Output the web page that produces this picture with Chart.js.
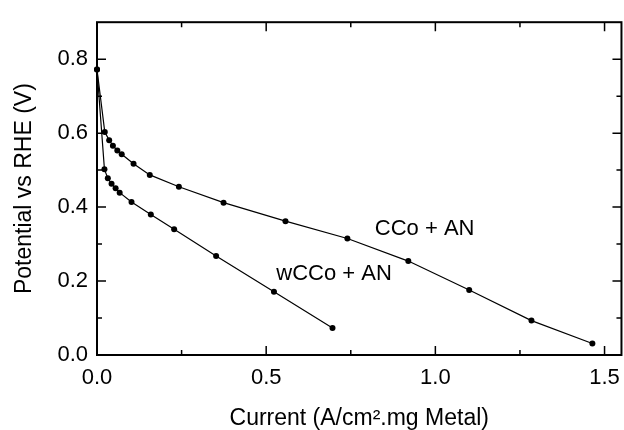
<!DOCTYPE html>
<html>
<head>
<meta charset="utf-8">
<script src="https://cdn.jsdelivr.net/npm/chart.js@4/dist/chart.umd.min.js"></script>
<style>
  html, body { margin: 0; padding: 0; background: #fff; overflow: hidden; }
</style>
</head>
<body>
<canvas id="plot" width="630" height="430"></canvas>
<script>
// CCo + AN (upper curve)
var ccoX = [0.0, 0.023, 0.036, 0.047, 0.060, 0.073, 0.108, 0.156, 0.242, 0.374, 0.557, 0.740, 0.920, 1.100, 1.284, 1.464];
var ccoY = [0.772, 0.603, 0.581, 0.566, 0.553, 0.543, 0.517, 0.487, 0.455, 0.412, 0.362, 0.315, 0.254, 0.176, 0.093, 0.031];

// wCCo + AN (lower curve)
var wccoX = [0.0, 0.022, 0.032, 0.043, 0.055, 0.067, 0.102, 0.159, 0.228, 0.352, 0.523, 0.696];
var wccoY = [0.772, 0.502, 0.478, 0.463, 0.451, 0.439, 0.414, 0.380, 0.340, 0.268, 0.171, 0.073];

// axis ticks
var xMajor = [0.0, 0.5, 1.0, 1.5];
var xMinor = [0.25, 0.75, 1.25];
var yMajor = [0.0, 0.2, 0.4, 0.6, 0.8];
var yMinor = [0.1, 0.3, 0.5, 0.7];

// curve labels (placed in data units)
var curveLabels = [
    { text: 'CCo + AN', x: 0.821, y: 0.342 },
    { text: 'wCCo + AN', x: 0.530, y: 0.218 }
];

var FONT = 'Liberation Sans, Arial, sans-serif';
Chart.defaults.font.family = FONT;
Chart.defaults.color = '#000';

function toPoints(xs, ys) {
    return xs.map(function (x, i) { return { x: x, y: ys[i] }; });
}

/* ======= Frame, inward ticks and curve labels ======= */
var framePlugin = {
    id: 'frame',
    afterDraw: function (chart) {
        var ctx = chart.ctx;
        var a = chart.chartArea;
        var sx = chart.scales.x, sy = chart.scales.y;
        ctx.save();
        ctx.strokeStyle = '#000';
        ctx.lineWidth = 2;
        ctx.strokeRect(a.left, a.top, a.right - a.left, a.bottom - a.top);

        ctx.lineWidth = 1.5;
        function xTick(v, len) {
            var px = sx.getPixelForValue(v);
            ctx.beginPath();
            ctx.moveTo(px, a.bottom); ctx.lineTo(px, a.bottom - len);
            ctx.moveTo(px, a.top); ctx.lineTo(px, a.top + len);
            ctx.stroke();
        }
        function yTick(v, len) {
            var py = sy.getPixelForValue(v);
            ctx.beginPath();
            ctx.moveTo(a.left, py); ctx.lineTo(a.left + len, py);
            ctx.moveTo(a.right, py); ctx.lineTo(a.right - len, py);
            ctx.stroke();
        }
        xMajor.forEach(function (v) { xTick(v, 9); });
        xMinor.forEach(function (v) { xTick(v, 5); });
        yMajor.forEach(function (v) { yTick(v, 9); });
        yMinor.forEach(function (v) { yTick(v, 5); });

        ctx.fillStyle = '#000';
        ctx.font = '22px ' + FONT;
        ctx.textAlign = 'left';
        ctx.textBaseline = 'middle';
        curveLabels.forEach(function (l) {
            ctx.fillText(l.text, sx.getPixelForValue(l.x), sy.getPixelForValue(l.y));
        });
        ctx.restore();
    }
};

var series = {
    borderColor: '#000',
    backgroundColor: '#000',
    borderWidth: 1.2,
    pointRadius: 3,
    pointHoverRadius: 3,
    pointBackgroundColor: '#000',
    pointBorderWidth: 0,
    showLine: true,
    tension: 0,
    clip: false
};

var ctx = document.getElementById('plot');
var graph = new Chart(ctx, {
    type: 'scatter',
    data: {
        datasets: [
            Object.assign({ label: 'CCo + AN', data: toPoints(ccoX, ccoY) }, series),
            Object.assign({ label: 'wCCo + AN', data: toPoints(wccoX, wccoY) }, series)
        ]
    },
    options: {
        responsive: false,
        animation: false,
        devicePixelRatio: 1,
        layout: { padding: { top: 15, right: 5, left: 0, bottom: 0 } },
        plugins: { legend: { display: false }, tooltip: { enabled: false } },
        scales: {
            x: {
                type: 'linear',
                min: 0,
                max: 1.55,
                grid: { display: false, drawTicks: false },
                border: { display: false },
                afterBuildTicks: function (s) { s.ticks = xMajor.map(function (v) { return { value: v }; }); },
                afterFit: function (s) { s.height = 75; },
                ticks: {
                    padding: 10,
                    maxRotation: 0,
                    font: { size: 22 },
                    callback: function (v) { return Number(v).toFixed(1); }
                },
                title: {
                    display: true,
                    text: 'Current (A/cm².mg Metal)',
                    font: { size: 23, lineHeight: 1 },
                    padding: { top: 1, bottom: 0 }
                }
            },
            y: {
                type: 'linear',
                min: 0,
                max: 0.9,
                grid: { display: false, drawTicks: false },
                border: { display: false },
                afterBuildTicks: function (s) { s.ticks = yMajor.map(function (v) { return { value: v }; }); },
                afterFit: function (s) { s.width = 97; },
                ticks: {
                    padding: 9,
                    font: { size: 22 },
                    callback: function (v) { return Number(v).toFixed(1); }
                },
                title: {
                    display: true,
                    text: 'Potential vs RHE (V)',
                    font: { size: 23 },
                    padding: { top: 11, bottom: 0 }
                }
            }
        }
    },
    plugins: [framePlugin]
});
</script>
</body>
</html>
